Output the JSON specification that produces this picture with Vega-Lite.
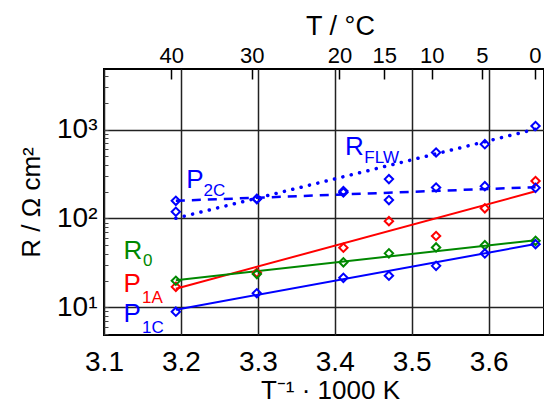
{
  "$schema": "https://vega.github.io/schema/vega-lite/v6.json",
  "width": 440,
  "height": 266,
  "autosize": {"type": "none"},
  "padding": {"left": 104, "top": 69, "right": 0, "bottom": 71},
  "background": "white",
  "config": {
    "view": {"stroke": "black", "strokeWidth": 2},
    "font": "Liberation Sans",
    "axis": {"labelFont": "Liberation Sans", "titleFont": "Liberation Sans", "labelColor": "black", "titleColor": "black", "titleFontWeight": "normal", "domain": false}
  },
  "datasets": {
    "pts": [
      {"s": "P1A", "x": 3.1934, "y": 17.0},
      {"s": "P1A", "x": 3.2987, "y": 24.5},
      {"s": "P1A", "x": 3.4112, "y": 46.8},
      {"s": "P1A", "x": 3.4704, "y": 93.3},
      {"s": "P1A", "x": 3.5317, "y": 63.5},
      {"s": "P1A", "x": 3.5951, "y": 130},
      {"s": "P1A", "x": 3.6610, "y": 264},
      {"s": "R0", "x": 3.1934, "y": 19.9},
      {"s": "R0", "x": 3.2987, "y": 23.7},
      {"s": "R0", "x": 3.4112, "y": 32.1},
      {"s": "R0", "x": 3.4704, "y": 40.5},
      {"s": "R0", "x": 3.5317, "y": 47.2},
      {"s": "R0", "x": 3.5951, "y": 50.1},
      {"s": "R0", "x": 3.6610, "y": 56.0},
      {"s": "P1C", "x": 3.1934, "y": 8.93},
      {"s": "P1C", "x": 3.2987, "y": 14.4},
      {"s": "P1C", "x": 3.4112, "y": 21.5},
      {"s": "P1C", "x": 3.4704, "y": 22.7},
      {"s": "P1C", "x": 3.5317, "y": 29.3},
      {"s": "P1C", "x": 3.5951, "y": 40.4},
      {"s": "P1C", "x": 3.6610, "y": 51.4},
      {"s": "P2C", "x": 3.1934, "y": 158},
      {"s": "P2C", "x": 3.2987, "y": 166},
      {"s": "P2C", "x": 3.4112, "y": 196},
      {"s": "P2C", "x": 3.4704, "y": 161},
      {"s": "P2C", "x": 3.5317, "y": 223},
      {"s": "P2C", "x": 3.5951, "y": 231},
      {"s": "P2C", "x": 3.6610, "y": 221},
      {"s": "RFLW", "x": 3.1934, "y": 119},
      {"s": "RFLW", "x": 3.2987, "y": 165},
      {"s": "RFLW", "x": 3.4112, "y": 203},
      {"s": "RFLW", "x": 3.4704, "y": 277},
      {"s": "RFLW", "x": 3.5317, "y": 552},
      {"s": "RFLW", "x": 3.5951, "y": 684},
      {"s": "RFLW", "x": 3.6610, "y": 1096}
    ],
    "fits": [
      {"s": "P1A", "style": "solid", "x": 3.1934, "y": 16.2},
      {"s": "P1A", "style": "solid", "x": 3.6610, "y": 202},
      {"s": "R0", "style": "solid", "x": 3.1934, "y": 20.2},
      {"s": "R0", "style": "solid", "x": 3.6610, "y": 57},
      {"s": "P1C", "style": "solid", "x": 3.1934, "y": 9.4},
      {"s": "P1C", "style": "solid", "x": 3.6610, "y": 51.5},
      {"s": "P2C", "style": "dashed", "x": 3.1934, "y": 158},
      {"s": "P2C", "style": "dashed", "x": 3.6610, "y": 225},
      {"s": "RFLW", "style": "dotted", "x": 3.1934, "y": 100.5},
      {"s": "RFLW", "style": "dotted", "x": 3.6610, "y": 1010}
    ],
    "labels": [
      {"s": "RFLW", "x": 3.4134, "y": 514, "t": "R"},
      {"s": "P2C", "x": 3.2069, "y": 221, "t": "P"},
      {"s": "R0", "x": 3.1255, "y": 34.6, "t": "R"},
      {"s": "P1A", "x": 3.1255, "y": 14.7, "t": "P"},
      {"s": "P1C", "x": 3.1255, "y": 6.89, "t": "P"}
    ],
    "subs": [
      {"s": "RFLW", "x": 3.4384, "y": 426, "t": "FLW"},
      {"s": "P2C", "x": 3.2294, "y": 178, "t": "2C"},
      {"s": "R0", "x": 3.1506, "y": 29.1, "t": "0"},
      {"s": "P1A", "x": 3.1494, "y": 11.09, "t": "1A"},
      {"s": "P1C", "x": 3.1494, "y": 5.1, "t": "1C"}
    ]
  },
  "layer": [
    {
      "data": {"name": "fits"},
      "transform": [{"filter": "datum.style == 'solid'"}],
      "mark": {"type": "line", "strokeWidth": 2},
      "encoding": {
        "x": {"field": "x", "type": "quantitative",
          "scale": {"domain": [3.1, 3.672], "nice": false, "zero": false},
          "axis": {"values": [3.1, 3.2, 3.3, 3.4, 3.5, 3.6], "format": ".1f", "grid": true, "gridColor": "#222", "gridWidth": 1.5, "ticks": false, "labelFontSize": 28, "labelPadding": 13, "labelFlush": false, "labelOverlap": false, "title": "T⁻¹ · 1000 K", "titleFontSize": 26, "titlePadding": 1, "titleX": 226}},
        "y": {"field": "y", "type": "quantitative",
          "scale": {"type": "log", "domain": [4.885, 4800], "nice": false},
          "axis": {"values": [5, 6, 7, 8, 9, 10, 20, 30, 40, 50, 60, 70, 80, 90, 100, 200, 300, 400, 500, 600, 700, 800, 900, 1000, 2000, 3000, 4000],
            "labelExpr": "datum.value == 10 ? '10¹' : datum.value == 100 ? '10²' : datum.value == 1000 ? '10³' : ''",
            "grid": true, "gridColor": "#222", "gridWidth": 1.5,
            "gridOpacity": {"condition": {"test": "datum.value == 10 || datum.value == 100 || datum.value == 1000", "value": 1}, "value": 0},
            "tickSize": -4, "tickColor": "#444", "tickWidth": 1,
            "labelFontSize": 28, "labelPadding": 11, "labelOverlap": false,
            "title": "R / Ω cm²", "titleFontSize": 26, "titlePadding": 12}},
        "detail": {"field": "s"},
        "color": {"field": "s", "type": "nominal", "legend": null,
          "scale": {"domain": ["RFLW", "P2C", "R0", "P1A", "P1C"], "range": ["#0000ff", "#0000ff", "#008800", "#ff0000", "#0000ff"]}}
      }
    },
    {
      "data": {"name": "fits"},
      "transform": [{"filter": "datum.style == 'dotted'"}],
      "mark": {"type": "line", "strokeWidth": 3.5, "strokeDash": [0.1, 8.5], "strokeCap": "round"},
      "encoding": {
        "x": {"field": "x", "type": "quantitative", "axis": null},
        "y": {"field": "y", "type": "quantitative"},
        "color": {"field": "s", "type": "nominal", "legend": null}
      }
    },
    {
      "data": {"name": "fits"},
      "transform": [{"filter": "datum.style == 'dashed'"}],
      "mark": {"type": "line", "strokeWidth": 2.5, "strokeDash": [9, 7]},
      "encoding": {
        "x": {"field": "x", "type": "quantitative", "axis": null},
        "y": {"field": "y", "type": "quantitative"},
        "color": {"field": "s", "type": "nominal", "legend": null}
      }
    },
    {
      "data": {"name": "pts"},
      "mark": {"type": "point", "shape": "diamond", "filled": false, "strokeWidth": 2, "size": 70, "opacity": 1},
      "encoding": {
        "x": {"field": "x", "type": "quantitative",
          "axis": {"orient": "top", "values": [3.1874, 3.2921, 3.4061, 3.4643, 3.5261, 3.5913, 3.6601],
            "labelExpr": "format(abs(round((1000 / datum.value - 273.15) / 5) * 5), 'd')",
            "grid": false, "tickSize": -10, "tickColor": "black", "tickWidth": 1.5,
            "labelFontSize": 22, "labelPadding": 12, "labelFlush": false, "labelOverlap": false,
            "title": "T / °C", "titleFontSize": 27, "titlePadding": 4, "titleX": 236}},
        "y": {"field": "y", "type": "quantitative"},
        "color": {"field": "s", "type": "nominal", "legend": null}
      }
    },
    {
      "data": {"name": "labels"},
      "mark": {"type": "text", "align": "left", "baseline": "alphabetic", "fontSize": 26, "font": "Liberation Sans"},
      "encoding": {
        "x": {"field": "x", "type": "quantitative", "axis": null},
        "y": {"field": "y", "type": "quantitative"},
        "text": {"field": "t"},
        "color": {"field": "s", "type": "nominal", "legend": null}
      }
    },
    {
      "data": {"name": "subs"},
      "mark": {"type": "text", "align": "left", "baseline": "alphabetic", "fontSize": 17, "font": "Liberation Sans"},
      "encoding": {
        "x": {"field": "x", "type": "quantitative", "axis": null},
        "y": {"field": "y", "type": "quantitative"},
        "text": {"field": "t"},
        "color": {"field": "s", "type": "nominal", "legend": null}
      }
    }
  ],
  "resolve": {"axis": {"x": "independent"}}
}
